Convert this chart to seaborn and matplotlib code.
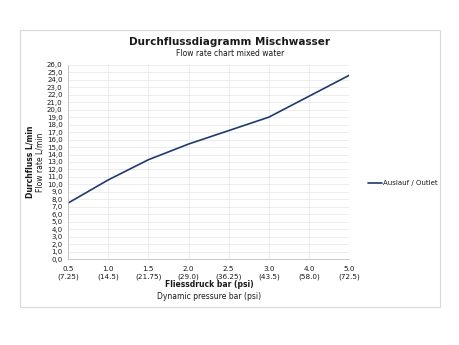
import numpy as np
import pandas as pd
import matplotlib
matplotlib.use("Agg")
import matplotlib.pyplot as plt
import seaborn as sns
from matplotlib.patches import Rectangle

# Daten
druck_labels = ["0.5\n(7.25)", "1.0\n(14.5)", "1.5\n(21.75)", "2.0\n(29.0)",
                "2.5\n(36.25)", "3.0\n(43.5)", "4.0\n(58.0)", "5.0\n(72.5)"]
durchfluss = [7.5, 10.6, 13.3, 15.4, 17.2, 19.0, 21.8, 24.6]
serie = "Auslauf / Outlet"

df = pd.DataFrame({"druck": druck_labels, "fluss": durchfluss, "serie": serie})

sns.set_style("white")
plt.rcParams['font.family'] = ['DejaVu Sans']
plt.rcParams['text.color'] = '#1a1a1a'
plt.rcParams['xtick.color'] = '#1a1a1a'
plt.rcParams['ytick.color'] = '#1a1a1a'

fig = plt.figure(figsize=(4.6, 3.45), dpi=100)
ax = fig.add_axes([0.148, 0.249, 0.611, 0.563])

# Rahmen um das Diagramm
fig.patches.append(Rectangle((0.0435, 0.110), 0.913, 0.803, transform=fig.transFigure,
                             fill=False, edgecolor="#d9d9d9", linewidth=0.8))

sns.lineplot(data=df, x="druck", y="fluss", hue="serie", palette=["#1f3a6e"],
             linewidth=1.2, sort=False, ax=ax)

ax.set_ylim(0, 26)
ax.set_xlim(0, len(druck_labels) - 1)
ax.set_yticks(np.arange(0, 27, 1))
ax.set_yticklabels([f"{v:.1f}".replace(".", ",") for v in np.arange(0, 27, 1)])
ax.set_xticks(range(len(druck_labels)))
ax.set_xticklabels(druck_labels)
ax.tick_params(axis="both", labelsize=5, length=2, width=0.5, color="#bfbfbf", pad=2)
ax.tick_params(axis="x", labelsize=5.2, pad=3)
ax.grid(True, color="#e6e6e6", linewidth=0.5)
for s in ["top", "right"]:
    ax.spines[s].set_visible(False)
for s in ["left", "bottom"]:
    ax.spines[s].set_color("#bfbfbf")
    ax.spines[s].set_linewidth(0.6)

ax.set_xlabel("")
ax.set_ylabel("")

# Titel
fig.text(0.5, 0.877, "Durchflussdiagramm Mischwasser", ha="center", va="center",
         fontsize=7.5, fontweight="bold")
fig.text(0.5, 0.846, "Flow rate chart mixed water", ha="center", va="center", fontsize=5.5)

# Achsenbeschriftungen
fig.text(0.066, 0.53, "Durchfluss L/min", rotation=90, ha="center", va="center",
         fontsize=5.5, fontweight="bold")
fig.text(0.087, 0.53, "Flow rate L/min", rotation=90, ha="center", va="center", fontsize=5.5)
fig.text(0.455, 0.174, "Fliessdruck bar (psi)", ha="center", va="center",
         fontsize=5.5, fontweight="bold")
fig.text(0.455, 0.142, "Dynamic pressure bar (psi)", ha="center", va="center", fontsize=5.5)

leg = ax.legend(loc="center left", bbox_to_anchor=(1.068, 0.39), frameon=False,
                fontsize=5, handlelength=2.0, handletextpad=0.1, borderpad=0,
                borderaxespad=0)

fig.savefig("out.png", dpi=100)
